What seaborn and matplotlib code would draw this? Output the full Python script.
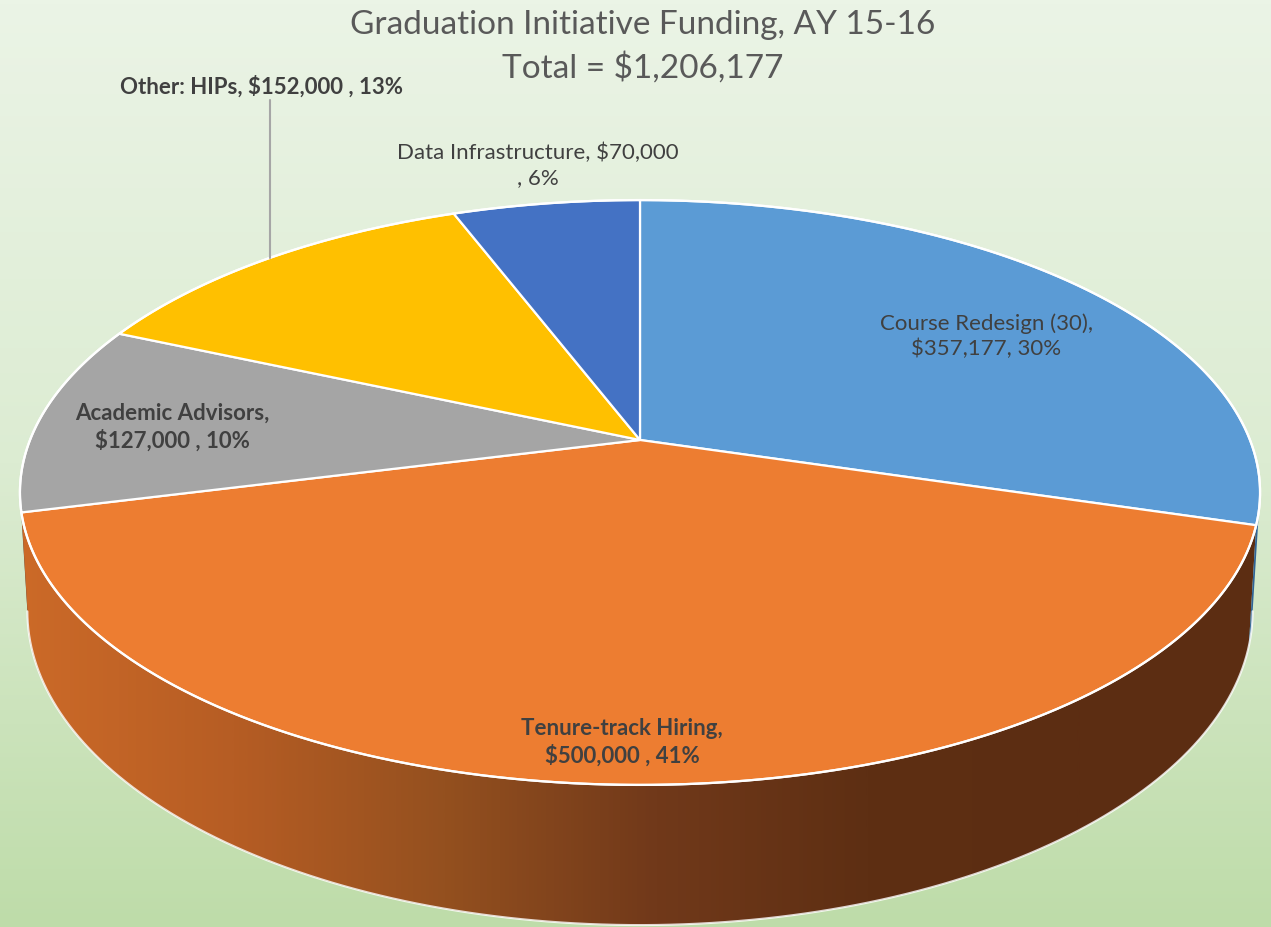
import numpy as np
import matplotlib.pyplot as plt
import seaborn as sns
from matplotlib.patches import Polygon
from matplotlib.colors import LinearSegmentedColormap

# #
# Data
categories = ['Course Redesign (30)', 'Tenure-track Hiring', 'Academic Advisors', 'Other: HIPs', 'Data Infrastructure']
amounts = [357177, 500000, 127000, 152000, 70000]
label_texts = ['Course Redesign (30),\n$357,177, 30%',
               'Tenure-track Hiring,\n$500,000 , 41%',
               'Academic Advisors,\n$127,000 , 10%',
               'Other: HIPs, $152,000 , 13%',
               'Data Infrastructure, $70,000\n, 6%']
title_lines = ['Graduation Initiative Funding, AY 15-16', 'Total = $1,206,177']

# #
# Style
sns.set_style('white')
plt.rcParams['font.family'] = ['Lato', 'DejaVu Sans']
palette = sns.color_palette(['#5b9bd5', '#ed7d31', '#a5a5a5', '#ffc000', '#4472c4'])
side_colors = ['#2f6396', None, '#6f6f6f', '#b08400', '#2b4f8f']
label_bold = [False, True, True, True, False]
label_pos = [(986, 336), (622, 742), (172, 427), (262, 87), (538, 165)]

W, H = 1271, 927
fig = plt.figure(figsize=(W / 100, H / 100), dpi=100)
ax = fig.add_axes([0, 0, 1, 1])
ax.set_xlim(0, W)
ax.set_ylim(H, 0)
ax.axis('off')

# background gradient
bg = LinearSegmentedColormap.from_list('bg', ['#ebf4e6', '#dcecd2', '#bedca9'])
ax.imshow(np.linspace(0, 1, 256).reshape(-1, 1), cmap=bg, extent=[0, W, H, 0], aspect='auto', zorder=0)

# perspective projection of the unit disk
cx, cy, B, A, k, Dz = 640, 440, 610, 283, 0.1795, 115


def project(u, v, bottom=False):
    f = 1 + k * v
    if bottom:
        return cx + 0.988 * B * u / f, cy - A * v / f + Dz / f
    return cx + B * u / f, cy - A * v / f


def rim(t0, t1, bottom=False, n=300):
    t = np.radians(np.linspace(t0, t1, n))
    x, y = project(np.cos(t), np.sin(t), bottom)
    return np.column_stack([x, y])


total = sum(amounts)
cum = np.concatenate([[0], np.cumsum(amounts)]) / total
starts = 90 - 360 * cum[:-1]
ends = 90 - 360 * cum[1:]

# visible front side between the silhouette angles
sil = np.degrees(np.arcsin(-k))
vis_lo, vis_hi = -180 - sil, sil

side_cmap = LinearSegmentedColormap.from_list(
    'side', ['#cc6a28', '#b65d24', '#94501f', '#71391a', '#5e2f13', '#5c2d12'])

for i in range(len(amounts)):
    lo, hi = max(ends[i], vis_lo), min(starts[i], vis_hi)
    if lo >= hi:
        continue
    pts = np.vstack([rim(hi, lo), rim(lo, hi, bottom=True)])
    if side_colors[i] is None:
        poly = Polygon(pts, closed=True, facecolor='none', edgecolor='none', zorder=1)
        ax.add_patch(poly)
        grad = ax.imshow(np.linspace(0, 1, 512).reshape(1, -1), cmap=side_cmap,
                         extent=[20, 1080, H, 0], aspect='auto', zorder=1)
        grad.set_clip_path(poly)
        ax.add_patch(Polygon(pts, closed=True, facecolor=side_cmap(1.0), edgecolor='none', zorder=0.9))
    else:
        ax.add_patch(Polygon(pts, closed=True, facecolor=side_colors[i], edgecolor='none', zorder=1))

# outline of the side
bot = rim(vis_lo, vis_hi, bottom=True)
ax.plot(bot[:, 0], bot[:, 1], color='white', lw=1.5, alpha=0.8, zorder=2)

# top surface
for i in range(len(amounts)):
    pts = np.vstack([[cx, cy], rim(starts[i], ends[i])])
    ax.add_patch(Polygon(pts, closed=True, facecolor=palette[i], edgecolor='white', lw=1.6, zorder=3))
top = rim(0, 360)
ax.plot(top[:, 0], top[:, 1], color='white', lw=1.6, zorder=4)

# labels
for i, txt in enumerate(label_texts):
    x, y = label_pos[i]
    ax.text(x, y, txt, ha='center', va='center', fontsize=16, linespacing=1.3,
            color='#404040', fontweight='bold' if label_bold[i] else 'normal', zorder=5)

# leader line for Other: HIPs
ax.plot([270, 270], [100, 258], color='#a6a6a6', lw=1.5, zorder=5)

# title
ax.text(643, 25, title_lines[0], ha='center', va='center', fontsize=24, color='#595959')
ax.text(643, 68, title_lines[1], ha='center', va='center', fontsize=24, color='#595959')

fig.savefig('out.png', dpi=100)
plt.close()
